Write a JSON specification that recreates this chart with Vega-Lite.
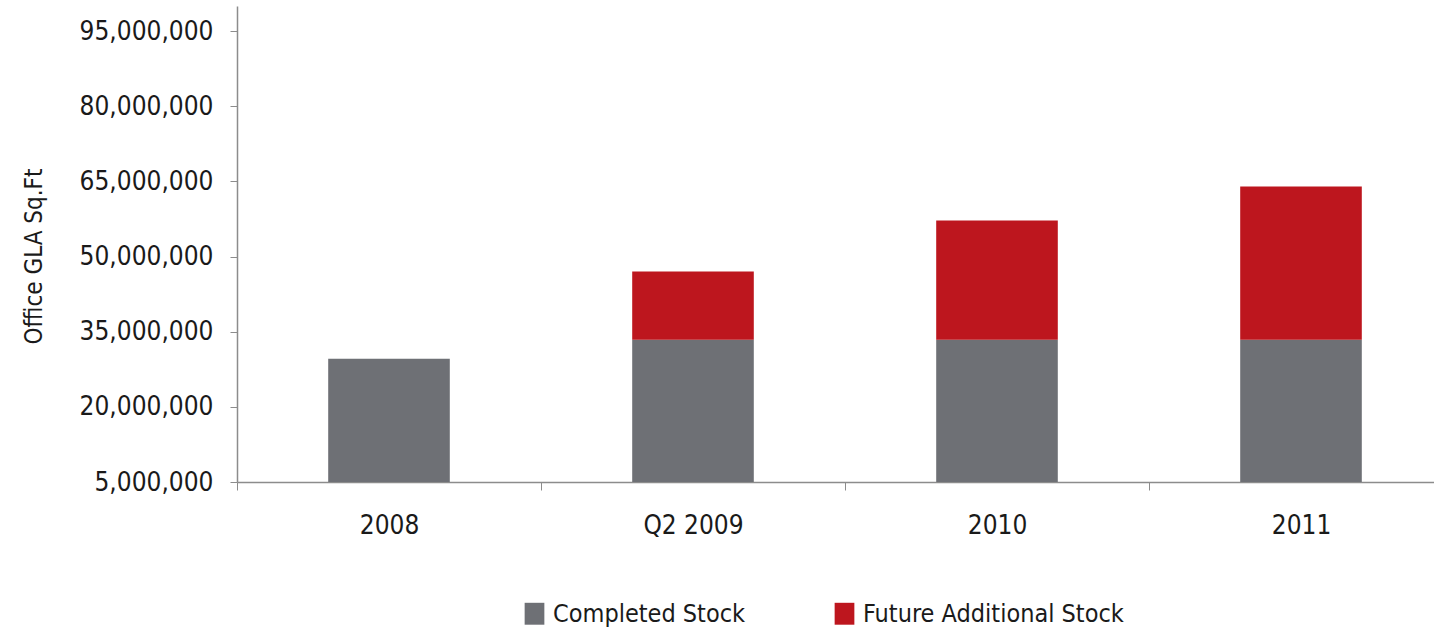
{
  "$schema": "https://vega.github.io/schema/vega-lite/v6.json",
  "width": 1216,
  "height": 476,
  "autosize": "none",
  "padding": {"left": 237, "top": 6, "right": 0, "bottom": 150},
  "background": "white",
  "data": {
    "values": [
      {"period": "2008", "series": "Completed Stock", "value": 29600000, "ord": 0},
      {"period": "Q2 2009", "series": "Completed Stock", "value": 33400000, "ord": 0},
      {"period": "Q2 2009", "series": "Future Additional Stock", "value": 13600000, "ord": 1},
      {"period": "2010", "series": "Completed Stock", "value": 33400000, "ord": 0},
      {"period": "2010", "series": "Future Additional Stock", "value": 23800000, "ord": 1},
      {"period": "2011", "series": "Completed Stock", "value": 33400000, "ord": 0},
      {"period": "2011", "series": "Future Additional Stock", "value": 30600000, "ord": 1}
    ]
  },
  "mark": {"type": "bar", "clip": true, "width": {"band": 0.4}},
  "encoding": {
    "x": {
      "field": "period",
      "type": "nominal",
      "sort": ["2008", "Q2 2009", "2010", "2011"],
      "scale": {"paddingInner": 0, "paddingOuter": 0},
      "axis": {
        "title": null,
        "labelAngle": 0,
        "tickBand": "extent",
        "domainColor": "#8c8c8c",
        "tickColor": "#8c8c8c",
        "domainWidth": 1.5,
        "tickSize": 8,
        "labelPadding": 22,
        "labelFont": "DejaVu Sans Condensed, Roboto, sans-serif",
        "labelFontSize": 26,
        "labelColor": "#1a1a1a"
      }
    },
    "y": {
      "field": "value",
      "type": "quantitative",
      "stack": "zero",
      "scale": {"domain": [5000000, 100000000], "zero": false, "nice": false},
      "axis": {
        "title": "Office GLA Sq.Ft",
        "values": [5000000, 20000000, 35000000, 50000000, 65000000, 80000000, 95000000],
        "format": ",d",
        "grid": false,
        "domainColor": "#8c8c8c",
        "tickColor": "#8c8c8c",
        "domainWidth": 1.5,
        "tickSize": 7,
        "labelPadding": 17,
        "labelFont": "DejaVu Sans Condensed, Roboto, sans-serif",
        "labelFontSize": 26,
        "labelColor": "#1a1a1a",
        "titleFont": "DejaVu Sans Condensed, Roboto, sans-serif",
        "titleFontSize": 24,
        "titleFontWeight": "normal",
        "titleColor": "#1a1a1a",
        "titleX": -196,
        "titleY": 250,
        "titleAngle": -90,
        "titleAlign": "center",
        "titleBaseline": "alphabetic"
      }
    },
    "color": {
      "field": "series",
      "type": "nominal",
      "scale": {"domain": ["Completed Stock", "Future Additional Stock"], "range": ["#6e7075", "#bd161e"]},
      "legend": {
        "title": null,
        "orient": "none",
        "direction": "horizontal",
        "legendX": 285,
        "legendY": 595,
        "symbolType": "M-0.9,-1H0.9V1H-0.9Z",
        "symbolSize": 480,
        "symbolStrokeWidth": 0,
        "symbolOpacity": 1,
        "labelFont": "DejaVu Sans Condensed, Roboto, sans-serif",
        "labelFontSize": 25,
        "labelColor": "#1a1a1a",
        "labelOffset": 6,
        "columnPadding": 86,
        "labelLimit": 400,
        "padding": 0
      }
    },
    "order": {"field": "ord"}
  },
  "config": {"view": {"stroke": null}}
}
